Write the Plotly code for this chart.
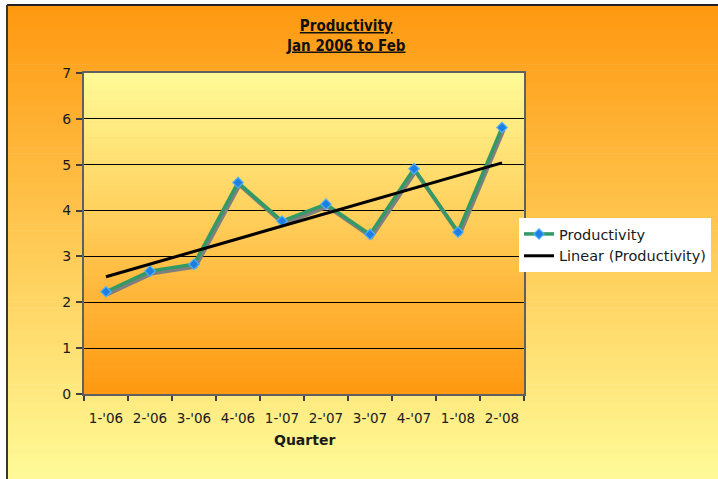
import numpy as np
import plotly.graph_objects as go

quarters = ["1-'06", "2-'06", "3-'06", "4-'06", "1-'07", "2-'07", "3-'07", "4-'07", "1-'08", "2-'08"]
productivity = [2.23, 2.68, 2.83, 4.61, 3.77, 4.14, 3.48, 4.91, 3.53, 5.81]
y_ticks = [0, 1, 2, 3, 4, 5, 6, 7]

# linear trendline computed from the data
xi = np.arange(1, len(productivity) + 1)
slope, intercept = np.polyfit(xi, productivity, 1)
trend = list(slope * xi + intercept)

W, H = 718, 479
L, R, T, B = 84, 524, 73, 394  # plot area in pixels


def PX(px):
    return (px - L) / (R - L)


def PY(py):
    return (B - py) / (B - T)


def lerp(c1, c2, t):
    return "rgb(%d,%d,%d)" % tuple(round(a + (b - a) * t) for a, b in zip(c1, c2))


ORANGE = (255, 152, 16)
YELLOW = (255, 251, 152)

shapes = []
# outer chart area gradient (orange top -> pale yellow bottom)
N = 80
top, bot = 5, 479
for i in range(N):
    y0 = top + (bot - top) * i / N
    y1 = top + (bot - top) * (i + 1) / N + 0.6
    shapes.append(dict(type="rect", xref="paper", yref="paper", layer="below",
                       x0=PX(7), x1=PX(720), y0=PY(y1), y1=PY(y0),
                       fillcolor=lerp(ORANGE, YELLOW, (i + 0.5) / N), line=dict(width=0)))
# plot area gradient (pale yellow top -> orange bottom)
M = 60
for i in range(M):
    y0 = T + (B - T) * i / M
    y1 = T + (B - T) * (i + 1) / M + 0.6
    shapes.append(dict(type="rect", xref="paper", yref="paper", layer="below",
                       x0=0, x1=1, y0=PY(min(y1, B)), y1=PY(y0),
                       fillcolor=lerp(YELLOW, ORANGE, (i + 0.5) / M), line=dict(width=0)))
# chart border (top and left)
shapes.append(dict(type="line", xref="paper", yref="paper", layer="above",
                   x0=PX(7), x1=PX(720), y0=PY(5), y1=PY(5), line=dict(color="#222", width=2)))
shapes.append(dict(type="line", xref="paper", yref="paper", layer="above",
                   x0=PX(7), x1=PX(7), y0=PY(5), y1=PY(480), line=dict(color="#3a3a20", width=2)))

fig = go.Figure()

# shadow of the line (same data drawn on slightly offset overlay axes)
fig.add_trace(go.Scatter(x=quarters, y=productivity, mode="lines",
                         line=dict(color="#7f7f7f", width=4),
                         xaxis="x2", yaxis="y2", showlegend=False, hoverinfo="skip"))
fig.add_trace(go.Scatter(x=quarters, y=productivity, mode="lines+markers", name="Productivity",
                         line=dict(color="#339966", width=3.5),
                         marker=dict(symbol="diamond", size=8, color="#1f7fe0",
                                     line=dict(color="#4db0ff", width=1.2)),
                         xaxis="x3", yaxis="y3"))
fig.add_trace(go.Scatter(x=quarters, y=trend, mode="lines", name="Linear (Productivity)",
                         line=dict(color="#000000", width=3),
                         xaxis="x3", yaxis="y3"))
# invisible trace to anchor main axes categories
fig.add_trace(go.Scatter(x=quarters, y=productivity, mode="lines", line=dict(width=0),
                         opacity=0, showlegend=False, hoverinfo="skip"))

dx = 1.5 / ((R - L) / len(quarters))
dy = 2.5 / ((B - T) / 7)

font_main = "DejaVu Sans, Verdana, sans-serif"

fig.update_layout(
    width=W, height=H,
    margin=dict(l=L, r=W - R, t=T, b=H - B, autoexpand=False),
    paper_bgcolor="white",
    plot_bgcolor="rgba(0,0,0,0)",
    shapes=shapes,
    font=dict(family=font_main, size=13, color="#1a1a1a"),
    xaxis=dict(type="category", range=[-0.5, len(quarters) - 0.5],
               categoryorder="array", categoryarray=quarters,
               showgrid=False, zeroline=False, automargin=False,
               showline=True, linecolor="#606060", linewidth=2, mirror=True,
               ticks="outside", tickson="boundaries", ticklen=5, tickcolor="#404040", tickwidth=1.5,
               ticklabelstandoff=11, tickangle=0,
               tickfont=dict(size=13.5, color="#1a1a1a")),
    yaxis=dict(range=[0, 7], tickvals=y_ticks, showgrid=True, gridcolor="#000000", gridwidth=1,
               zeroline=False, showline=True, linecolor="#606060", linewidth=2, mirror=True,
               ticks="outside", ticklen=6, tickcolor="#404040", tickwidth=1.5, automargin=False,
               ticklabelstandoff=2,
               tickfont=dict(size=14, color="#1a1a1a")),
    xaxis2=dict(type="category", overlaying="x", range=[-0.5 - dx, len(quarters) - 0.5 - dx],
                visible=False, categoryorder="array", categoryarray=quarters),
    yaxis2=dict(overlaying="y", range=[dy, 7 + dy], visible=False),
    xaxis3=dict(type="category", overlaying="x", range=[-0.5, len(quarters) - 0.5],
                visible=False, categoryorder="array", categoryarray=quarters),
    yaxis3=dict(overlaying="y", range=[0, 7], visible=False),
    legend=dict(x=PX(519), y=PY(218), xanchor="left", yanchor="top",
                bgcolor="white", borderwidth=0, font=dict(size=14.5, color="#1a1a1a"),
                tracegroupgap=0),
    showlegend=True,
    annotations=[
        dict(xref="paper", yref="paper", x=PX(346), y=PY(36), xanchor="center", yanchor="middle",
             text="<b><u>Productivity</u></b><br><b><u>Jan 2006 to Feb</u></b>",
             showarrow=False, font=dict(family="DejaVu Sans Condensed, DejaVu Sans, sans-serif", size=15, color="#111")),
        dict(xref="paper", yref="paper", x=PX(304), y=PY(440), xanchor="center", yanchor="middle",
             text="<b>Quarter</b>", showarrow=False, font=dict(size=14, color="#1a1a1a")),
    ],
)

fig.write_html("out.html")
